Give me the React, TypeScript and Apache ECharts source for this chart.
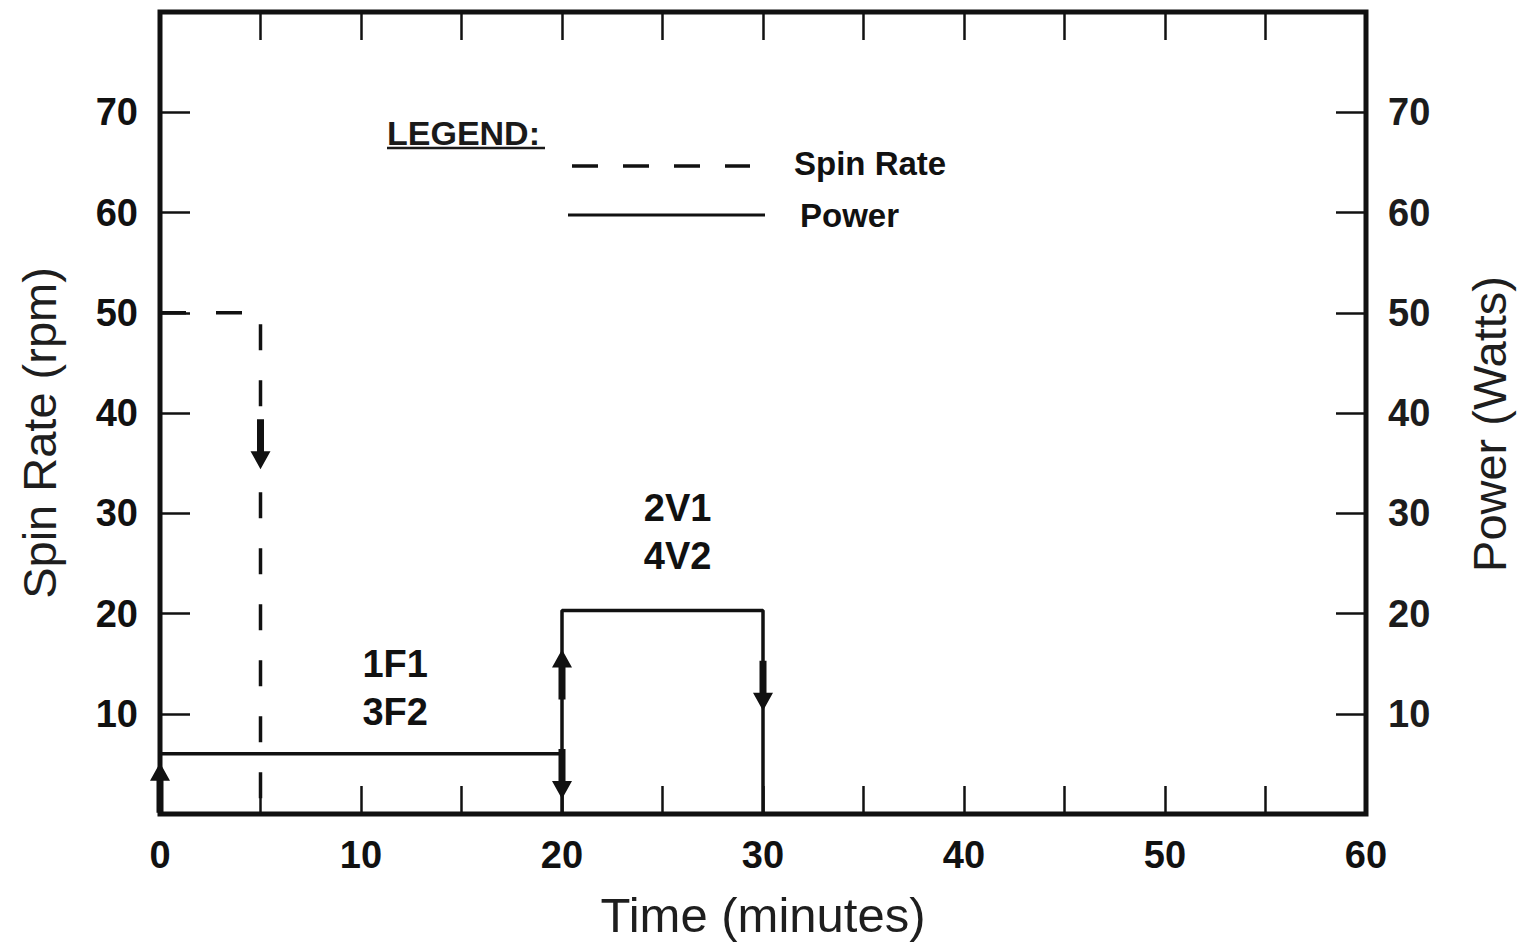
import React, { useEffect, useRef } from "react";
import * as echarts from "echarts";

// ---- data ----
const timeTicks = [0, 5, 10, 15, 20, 25, 30, 35, 40, 45, 50, 55, 60];
const spinRate: [number, number][] = [
  [0, 50],
  [5, 50],
  [5, 0],
];
const power: [number, number][] = [
  [0, 0],
  [0, 6],
  [20, 6],
  [20, 0],
  [20, 20.3],
  [30, 20.3],
  [30, 0],
];
const arrowsUp: [number, number][] = [
  [0, 5.1],
  [20, 16.4],
];
const arrowsDown: [number, number][] = [
  [5, 34.4],
  [20, 1.5],
  [30, 10.3],
];
const annotations: [number, number, string][] = [
  [11.7, 12.6, "1F1\n3F2"],
  [25.75, 28.1, "2V1\n4V2"],
];

const FONT = "Liberation Sans, Arial, Helvetica, sans-serif";
const INK = "#111";
const ARROW = "path://M10,0 L20,18 L13.5,18 L13.5,50 L6.5,50 L6.5,18 L0,18 Z";

export default function App() {
  const ref = useRef<HTMLDivElement>(null);

  useEffect(() => {
    if (!ref.current) return;
    const chart = echarts.init(ref.current, undefined, { renderer: "svg" });

    const yAxisBase = (position: "left" | "right", name: string, pad: number) => ({
      type: "value",
      position,
      min: 0,
      max: 80,
      interval: 10,
      name,
      nameLocation: "middle",
      nameRotate: 90,
      nameGap: position === "left" ? 97 : 100,
      nameTextStyle: {
        fontFamily: FONT,
        fontSize: 47,
        color: "#1e1e1e",
        padding: [0, pad, 0, 0],
      },
      axisLine: { show: false, onZero: false },
      axisTick: { show: true, inside: true, length: 30, lineStyle: { color: INK, width: 2.5 } },
      splitLine: { show: false },
      axisLabel: {
        margin: 22,
        fontFamily: FONT,
        fontSize: 38,
        fontWeight: "bold",
        color: position === "left" ? INK : "#1c1c1c",
        formatter: (v: number) => (v === 0 || v === 80 ? "" : String(v)),
      },
    });

    const option: any = {
      animation: false,
      backgroundColor: "#ffffff",
      grid: {
        left: 160,
        right: 158,
        top: 12,
        bottom: 126,
        show: true,
        borderWidth: 5,
        borderColor: INK,
        backgroundColor: "transparent",
      },
      xAxis: [
        {
          type: "value",
          position: "bottom",
          min: 0,
          max: 60,
          interval: 5,
          name: "Time (minutes)",
          nameLocation: "middle",
          nameGap: 76,
          nameTextStyle: { fontFamily: FONT, fontSize: 49, color: "#1e1e1e" },
          axisLine: { show: false, onZero: false },
          axisTick: { show: true, inside: true, length: 28, lineStyle: { color: INK, width: 2.5 } },
          splitLine: { show: false },
          axisLabel: {
            margin: 22,
            fontFamily: FONT,
            fontSize: 38,
            fontWeight: "bold",
            color: INK,
            showMinLabel: true,
            showMaxLabel: true,
            formatter: (v: number) => (timeTicks.includes(v) && v % 10 === 0 ? String(v) : ""),
          },
        },
        {
          type: "value",
          position: "top",
          min: 0,
          max: 60,
          interval: 5,
          axisLine: { show: false, onZero: false },
          axisTick: { show: true, inside: true, length: 28, lineStyle: { color: INK, width: 2.5 } },
          splitLine: { show: false },
          axisLabel: { show: false },
        },
      ],
      yAxis: [yAxisBase("left", "Spin Rate (rpm)", 40), yAxisBase("right", "Power (Watts)", 22)],
      series: [
        {
          name: "Spin Rate",
          type: "line",
          xAxisIndex: 0,
          yAxisIndex: 0,
          data: spinRate,
          symbol: "none",
          lineStyle: { color: INK, width: 3.5, type: [26, 30] },
          z: 3,
        },
        {
          name: "Power",
          type: "line",
          xAxisIndex: 0,
          yAxisIndex: 1,
          data: power,
          symbol: "none",
          lineStyle: { color: INK, width: 3.5, type: "solid" },
          z: 3,
        },
        {
          name: "arrows-up",
          type: "scatter",
          xAxisIndex: 0,
          yAxisIndex: 1,
          data: arrowsUp,
          symbol: ARROW,
          symbolSize: [20, 50],
          symbolOffset: [0, 25],
          itemStyle: { color: INK, opacity: 1 },
          silent: true,
          z: 4,
        },
        {
          name: "arrows-down",
          type: "scatter",
          xAxisIndex: 0,
          yAxisIndex: 1,
          data: arrowsDown,
          symbol: ARROW,
          symbolSize: [20, 50],
          symbolRotate: 180,
          symbolOffset: [0, -25],
          itemStyle: { color: INK, opacity: 1 },
          silent: true,
          z: 4,
        },
        {
          name: "annotations",
          type: "scatter",
          xAxisIndex: 0,
          yAxisIndex: 0,
          data: annotations.map((a) => ({ value: [a[0], a[1]], text: a[2] })),
          symbolSize: 0,
          silent: true,
          itemStyle: { opacity: 1 },
          label: {
            show: true,
            position: "inside",
            formatter: (p: any) => p.data.text,
            fontFamily: FONT,
            fontSize: 38,
            fontWeight: "bold",
            lineHeight: 48,
            color: INK,
            opacity: 1,
          },
          z: 5,
        },
      ],
      graphic: [
        {
          type: "text",
          left: 387,
          top: 116,
          style: { text: "LEGEND:", fontFamily: FONT, fontSize: 34, fontWeight: "bold", fill: "#1a1a1a" },
        },
        {
          type: "line",
          shape: { x1: 387, y1: 148, x2: 545, y2: 148 },
          style: { stroke: "#1a1a1a", lineWidth: 2.5 },
        },
        {
          type: "line",
          shape: { x1: 572, y1: 166, x2: 750, y2: 166 },
          style: { stroke: INK, lineWidth: 3.5, lineDash: [26, 25] },
        },
        {
          type: "text",
          left: 794,
          top: 147,
          style: { text: "Spin Rate", fontFamily: FONT, fontSize: 33, fontWeight: "bold", fill: INK },
        },
        {
          type: "line",
          shape: { x1: 568, y1: 215, x2: 765, y2: 215 },
          style: { stroke: INK, lineWidth: 3 },
        },
        {
          type: "text",
          left: 800,
          top: 199,
          style: { text: "Power", fontFamily: FONT, fontSize: 33, fontWeight: "bold", fill: INK },
        },
      ],
    };

    chart.setOption(option);
    return () => chart.dispose();
  }, []);

  return (
    <div
      ref={ref}
      style={{ position: "absolute", left: 0, top: 0, width: 1524, height: 944, background: "#fff" }}
    />
  );
}
